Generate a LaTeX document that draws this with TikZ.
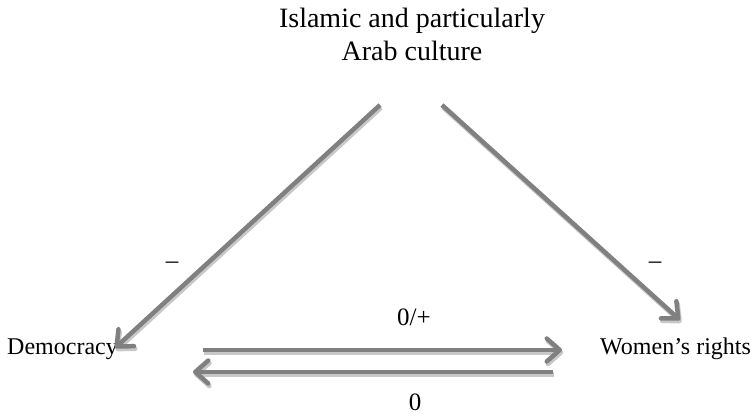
\documentclass[tikz,border=0pt]{standalone}
\usepackage{fontspec}
\setmainfont{Liberation Serif}
\usetikzlibrary{arrows.meta}
\definecolor{arrgray}{HTML}{808080}
\definecolor{shadgray}{HTML}{C8C8C8}
\tikzset{
  lbl/.style={inner sep=0pt, font=\fontsize{24}{28}\selectfont},
  sgn/.style={inner sep=0pt, font=\fontsize{25}{29}\selectfont},
  arrbase/.style={line width=4.5pt, -{Straight Barb[length=13pt,width=23pt,round]}},
  mainarrow/.style={arrbase, draw=arrgray},
  shadowarrow/.style={arrbase, draw=shadgray, transform canvas={shift={(1.2pt,-2.6pt)}}}
}
\begin{document}
\begin{tikzpicture}[x=1pt,y=-1pt]
\useasboundingbox (0,0) rectangle (754,416);
% texts
\node[inner sep=0pt, anchor=north, align=center, font=\fontsize{28}{33}\selectfont] (T) at (412,8) {Islamic and particularly\\Arab culture};
\node[lbl, anchor=base west] (D) at (7,354) {Democracy};
\node[lbl, anchor=base west] (W) at (600,354) {Women’s rights};
\node[sgn, anchor=base] (L1) at (172,268) {–};
\node[sgn, anchor=base] (L2) at (655,268) {–};
\node[sgn, anchor=base] (L3) at (414,325) {0/+};
\node[sgn, anchor=base] (L4) at (415,410) {0};
% arrow end points
\coordinate (a1) at (380,105);
\coordinate (a2) at (115,348);
\coordinate (b1) at (442,105);
\coordinate (b2) at (680,320);
\coordinate (c1) at (203,350);
\coordinate (c2) at (562,350);
\coordinate (e1) at (553,372);
\coordinate (e2) at (193,372);
% shadows
\draw[shadowarrow] (a1) -- (a2);
\draw[shadowarrow] (b1) -- (b2);
\draw[shadowarrow] (c1) -- (c2);
\draw[shadowarrow] (e1) -- (e2);
% arrows
\draw[mainarrow] (a1) -- (a2);
\draw[mainarrow] (b1) -- (b2);
\draw[mainarrow] (c1) -- (c2);
\draw[mainarrow] (e1) -- (e2);
\end{tikzpicture}
\end{document}
